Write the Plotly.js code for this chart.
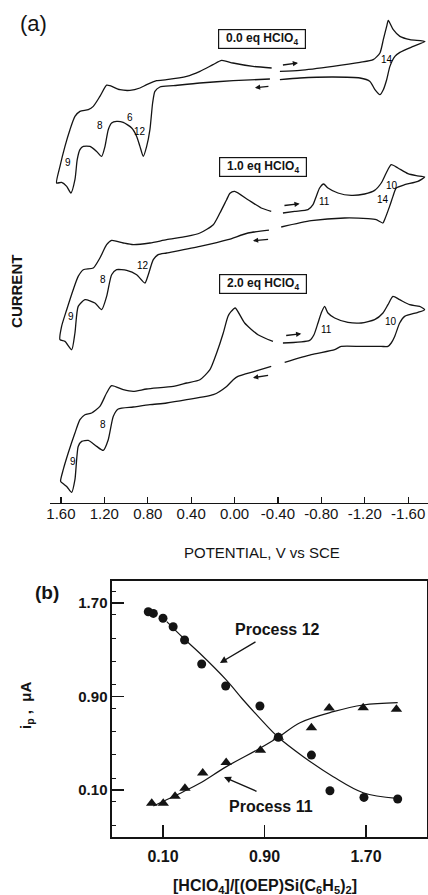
<!DOCTYPE html>
<html>
<head>
<meta charset="utf-8">
<script src="https://cdn.plot.ly/plotly-3.0.1.min.js"></script>
<style>
  html, body { margin: 0; padding: 0; background: #fff; }
  #chart { width: 428px; height: 895px; }
</style>
</head>
<body>
<div id="chart"></div>
<script>
// ---- (a) cyclic voltammograms: potential (V vs SCE) and current (arbitrary units) ----
// Each scan is split into a positive-potential window and a negative-potential window.

// 0.0 eq HClO4
const cv0_E_pos = [-0.342,-0.170,0.015,0.119,0.199,0.319,0.441,0.626,0.718,0.810,0.872,0.964,1.056,1.148,1.179,1.241,1.302,1.348,1.425,1.471,1.517,1.563,1.609,1.640,1.594,1.547,1.508,1.471,1.450,1.425,1.394,1.333,1.271,1.225,1.194,1.164,1.133,1.087,1.026,0.948,0.902,0.872,0.841,0.810,0.780,0.755,0.734,0.688,0.565,0.319,0.012,-0.326];
const cv0_I_pos = [0.67,0.83,1.17,1.43,1.00,0.33,-0.17,-0.50,-0.60,-1.00,-1.33,-1.57,-1.50,-1.10,-1.05,-2.17,-3.17,-3.50,-3.67,-4.17,-5.50,-7.17,-9.17,-10.83,-10.77,-11.17,-11.83,-10.50,-8.50,-7.50,-7.17,-7.17,-7.67,-8.17,-7.17,-5.50,-4.83,-4.67,-4.77,-5.33,-6.17,-7.17,-8.17,-7.17,-5.50,-2.83,-1.67,-1.23,-1.10,-0.83,-0.60,-0.43];
const cv0_E_neg = [-0.418,-0.603,-0.907,-1.156,-1.278,-1.340,-1.371,-1.402,-1.417,-1.463,-1.524,-1.617,-1.755,-1.647,-1.524,-1.478,-1.432,-1.402,-1.371,-1.340,-1.294,-1.248,-1.156,-0.907,-0.603,-0.418];
const cv0_I_neg = [0.33,0.43,0.83,1.23,1.50,2.17,3.50,4.83,5.43,4.50,3.83,3.50,3.33,2.83,2.23,1.83,0.83,-0.50,-1.50,-2.00,-1.50,-0.67,-0.33,-0.23,-0.33,-0.50];

// 1.0 eq HClO4
const cv1_E_pos = [-0.338,-0.246,-0.124,-0.001,0.042,0.073,0.135,0.196,0.319,0.441,0.626,0.780,0.934,1.026,1.133,1.179,1.241,1.302,1.394,1.441,1.487,1.547,1.594,1.609,1.563,1.501,1.471,1.441,1.379,1.287,1.225,1.179,1.133,1.087,0.994,0.902,0.826,0.795,0.749,0.703,0.626,0.319,0.061,-0.124,-0.317];
const cv1_I_pos = [0.33,0.67,1.50,2.33,2.15,1.50,0.17,-1.00,-1.83,-2.17,-2.50,-2.83,-3.00,-2.83,-2.57,-3.00,-4.33,-5.33,-5.50,-6.17,-7.50,-9.50,-11.17,-12.50,-12.67,-13.50,-11.83,-9.17,-8.50,-8.83,-9.50,-8.17,-6.00,-5.50,-5.57,-6.00,-6.83,-6.00,-4.50,-4.00,-3.83,-3.17,-2.50,-1.83,-1.55];
const cv1_E_neg = [-0.446,-0.554,-0.677,-0.723,-0.753,-0.784,-0.821,-0.861,-0.953,-1.076,-1.199,-1.291,-1.352,-1.398,-1.444,-1.506,-1.598,-1.675,-1.752,-1.690,-1.568,-1.490,-1.460,-1.429,-1.383,-1.368,-1.306,-1.230,-1.015,-0.707,-0.430];
const cv1_I_neg = [0.17,0.33,0.50,1.00,1.83,2.67,3.07,2.67,2.17,1.93,2.07,2.43,3.17,4.17,5.00,4.67,4.10,3.90,3.77,3.33,3.00,2.67,1.83,0.83,-0.50,-0.83,-0.50,-0.40,-0.33,-0.60,-1.23];

// 2.0 eq HClO4
const cv2_E_pos = [-0.354,-0.216,-0.093,-0.006,0.033,0.061,0.104,0.165,0.227,0.319,0.441,0.565,0.810,0.934,1.026,1.133,1.179,1.241,1.317,1.379,1.425,1.471,1.533,1.579,1.603,1.579,1.545,1.501,1.471,1.441,1.409,1.348,1.271,1.210,1.164,1.118,1.072,0.934,0.780,0.626,0.441,0.196,0.073,0.012,-0.031,-0.185,-0.338];
const cv2_I_pos = [0.83,1.50,2.67,4.17,3.80,3.33,1.67,-0.33,-2.00,-3.00,-3.33,-3.67,-3.93,-4.17,-4.00,-3.60,-4.33,-5.67,-6.33,-6.50,-7.00,-8.33,-10.33,-12.00,-13.17,-13.40,-13.70,-14.27,-13.00,-9.67,-9.17,-9.07,-9.67,-10.07,-9.00,-6.67,-5.93,-5.73,-5.50,-5.33,-5.00,-4.50,-3.67,-3.00,-2.67,-2.17,-1.67];
const cv2_E_neg = [-0.446,-0.692,-0.732,-0.769,-0.799,-0.830,-0.861,-0.923,-1.045,-1.168,-1.291,-1.368,-1.414,-1.460,-1.522,-1.614,-1.706,-1.752,-1.690,-1.568,-1.522,-1.476,-1.444,-1.414,-1.352,-1.168,-0.983,-0.923,-0.707,-0.462];
const cv2_I_neg = [0.67,0.93,1.50,2.67,3.67,4.33,3.67,3.17,2.73,2.67,3.00,3.67,4.50,5.33,5.00,4.50,4.33,4.00,3.73,3.33,2.67,1.33,0.67,0.33,0.33,0.33,0.33,0.00,-0.50,-1.27];

const cvLabels = ["0.0 eq HClO<sub>4</sub>", "1.0 eq HClO<sub>4</sub>", "2.0 eq HClO<sub>4</sub>"];
const potentialTicks = [1.60, 1.20, 0.80, 0.40, 0.00, -0.40, -0.80, -1.20, -1.60];
const potentialTickText = ["1.60", "1.20", "0.80", "0.40", "0.00", "-0.40", "-0.80", "-1.20", "-1.60"];

// ---- (b) peak current vs acid ratio ----
const ratio12 = [-0.016, 0.024, 0.10, 0.18, 0.27, 0.405, 0.594, 0.864, 1.009, 1.27, 1.416, 1.684, 1.95];
const ip12    = [1.625, 1.611, 1.569, 1.497, 1.383, 1.178, 0.99, 0.819, 0.551, 0.399, 0.094, 0.037, 0.023];
const ratio11 = [0.011, 0.102, 0.195, 0.273, 0.413, 0.598, 0.868, 1.009, 1.27, 1.41, 1.678, 1.94];
const ip11    = [-0.014, -0.014, 0.046, 0.115, 0.245, 0.335, 0.44, 0.551, 0.633, 0.802, 0.804, 0.79];
const fit12_x = [0.13, 0.26, 0.39, 0.60, 0.733, 0.864, 1.009, 1.206, 1.442, 1.678, 1.942];
const fit12_y = [1.54, 1.40, 1.27, 1.04, 0.87, 0.713, 0.551, 0.385, 0.214, 0.077, 0.029];
const fit11_x = [0.024, 0.26, 0.39, 0.60, 0.864, 1.009, 1.18, 1.442, 1.678, 1.95];
const fit11_y = [-0.037, 0.085, 0.157, 0.30, 0.457, 0.551, 0.676, 0.77, 0.827, 0.847];

// vertical stacking of the three voltammograms (a.u.)
const STACK = [42.8, 28.8, 15.3];

const FONT = "Liberation Sans, Arial, Helvetica, sans-serif";
const INK = "#141414";

function cvTrace(Ep, Ip, En, In, off) {
  return {
    x: Ep.concat([null], En),
    y: Ip.map(v => v + off).concat([null], In.map(v => v + off)),
    xaxis: "x", yaxis: "y",
    mode: "lines",
    line: { color: INK, width: 1.3, shape: "spline", smoothing: 0.6 },
    connectgaps: false,
    hoverinfo: "skip"
  };
}

const traces = [
  cvTrace(cv0_E_pos, cv0_I_pos, cv0_E_neg, cv0_I_neg, STACK[0]),
  cvTrace(cv1_E_pos, cv1_I_pos, cv1_E_neg, cv1_I_neg, STACK[1]),
  cvTrace(cv2_E_pos, cv2_I_pos, cv2_E_neg, cv2_I_neg, STACK[2]),
  { x: fit12_x, y: fit12_y, xaxis: "x2", yaxis: "y2", mode: "lines",
    line: { color: INK, width: 1.2, shape: "spline", smoothing: 1 } },
  { x: fit11_x, y: fit11_y, xaxis: "x2", yaxis: "y2", mode: "lines",
    line: { color: INK, width: 1.2, shape: "spline", smoothing: 1 } },
  { x: ratio12, y: ip12, xaxis: "x2", yaxis: "y2", mode: "markers",
    marker: { symbol: "circle", size: 9, color: INK } },
  { x: ratio11, y: ip11, xaxis: "x2", yaxis: "y2", mode: "markers",
    marker: { symbol: "triangle-up", size: 10, color: INK } }
];

// wave labels on the voltammograms: [E, current, curve index, text]
const waveLabels = [
  [-1.408, 1.5, 0, "14"], [1.533, -8.77, 0, "9"], [1.241, -5.1, 0, "8"],
  [0.964, -4.33, 0, "6"], [0.867, -5.67, 0, "12"],
  [-0.830, 1.33, 1, "11"], [-1.451, 2.9, 1, "10"], [-1.368, 1.5, 1, "14"],
  [0.847, -5.1, 1, "12"], [1.216, -6.5, 1, "8"], [1.511, -10.23, 1, "9"],
  [-0.845, 2.0, 2, "11"], [-1.444, 2.83, 2, "10"], [1.210, -7.5, 2, "8"], [1.492, -11.17, 2, "9"]
];

// scan-direction arrows: [E head, I head, E tail, I tail, curve index]
const scanArrows = [
  [-0.585, 1.17, -0.432, 0.95, 0], [-0.188, -1.30, -0.326, -1.15, 0],
  [-0.600, 1.10, -0.446, 0.90, 1], [-0.170, -2.60, -0.323, -2.45, 1],
  [-0.615, 1.60, -0.462, 1.40, 2], [-0.170, -2.80, -0.323, -2.55, 2]
];

const annotations = [];
waveLabels.forEach(([e, i, k, t]) => annotations.push({
  x: e, y: i + STACK[k], xref: "x", yref: "y", text: t, showarrow: false,
  xanchor: "center", yanchor: "middle",
  font: { family: FONT, size: 10, color: "#000" }
}));
scanArrows.forEach(([e, i, e0, i0, k]) => annotations.push({
  x: e, y: i + STACK[k], ax: e0, ay: i0 + STACK[k], xref: "x", yref: "y",
  axref: "x", ayref: "y", text: "", showarrow: true,
  arrowhead: 2, arrowsize: 0.8, arrowwidth: 1.3, arrowcolor: INK
}));
const boxPos = [[0.611, 0.9564], [0.6145, 0.8134], [0.6138, 0.6832]];
cvLabels.forEach((t, k) => annotations.push({
  x: boxPos[k][0], y: boxPos[k][1], xref: "paper", yref: "paper",
  xanchor: "center", yanchor: "middle",
  text: "<b>" + t + "</b>", showarrow: false, width: 82, height: 14,
  bordercolor: INK, borderwidth: 1.2, borderpad: 2, bgcolor: "#fff",
  font: { family: FONT, size: 12, color: INK }
}));

function note(x, y, text, size, extra) {
  return Object.assign({ x: x, y: y, xref: "paper", yref: "paper", text: text,
    showarrow: false, xanchor: "center", yanchor: "middle",
    font: { family: FONT, size: size, color: INK } }, extra || {});
}

annotations.push(
  note(0.0794, 0.9743, "(a)", 22),
  note(0.1098, 0.3385, "<b>(b)</b>", 19),
  note(0.0397, 0.6749, "<b>CURRENT</b>", 15, { textangle: -90 }),
  note(0.612, 0.3832, "POTENTIAL, V vs SCE", 15),
  note(0.0631, 0.2112, "<b>i<sub>p</sub> ,  μA</b>", 15, { textangle: -90 }),
  note(0.619, 0.0095, "<b>[HClO<sub>4</sub>]/[(OEP)Si(C<sub>6</sub>H<sub>5</sub>)<sub>2</sub>]</b>", 16),
  { x: 1.002, y: 1.469, xref: "x2", yref: "y2", text: "<b>Process 12</b>", showarrow: false,
    xanchor: "center", yanchor: "middle", font: { family: FONT, size: 16, color: INK } },
  { x: 0.951, y: -0.045, xref: "x2", yref: "y2", text: "<b>Process 11</b>", showarrow: false,
    xanchor: "center", yanchor: "middle", font: { family: FONT, size: 16, color: INK } },
  { x: 0.549, y: 1.187, ax: 0.841, ay: 1.375, xref: "x2", yref: "y2", axref: "x2", ayref: "y2",
    text: "", showarrow: true, arrowhead: 2, arrowsize: 1, arrowwidth: 1.4, arrowcolor: INK },
  { x: 0.581, y: 0.211, ax: 0.849, ay: 0.083, xref: "x2", yref: "y2", axref: "x2", ayref: "y2",
    text: "", showarrow: true, arrowhead: 2, arrowsize: 1, arrowwidth: 1.4, arrowcolor: INK }
);

const layout = {
  width: 428, height: 895,
  margin: { l: 0, r: 0, t: 0, b: 0 },
  paper_bgcolor: "#fff", plot_bgcolor: "#fff",
  showlegend: false,
  font: { family: FONT, color: INK },
  xaxis: {
    domain: [0.1168, 1.0], anchor: "y", range: [1.701, -1.783],
    showline: true, linecolor: INK, linewidth: 1.3,
    ticks: "inside", ticklen: 6, tickwidth: 1.2, tickcolor: INK,
    tickmode: "array", tickvals: potentialTicks, ticktext: potentialTickText,
    ticklabelstandoff: -3,
    tickfont: { family: FONT, size: 15, color: INK },
    showgrid: false, zeroline: false, fixedrange: true
  },
  yaxis: {
    domain: [0.43832, 0.98883], anchor: "x", range: [0, 49.27],
    visible: false, showgrid: false, zeroline: false, fixedrange: true
  },
  xaxis2: {
    domain: [0.26168, 0.99766], anchor: "y2", range: [-0.302, 2.181],
    tickmode: "linear", tick0: 0.1, dtick: 0.8, tickformat: ".2f",
    showline: true, mirror: true, linecolor: INK, linewidth: 1.5,
    ticks: "inside", ticklen: 12, tickwidth: 1.4, tickcolor: INK,
    ticklabelstandoff: 4,
    tickfont: { family: FONT, size: 16, color: INK, weight: "bold" },
    showgrid: false, zeroline: false, fixedrange: true
  },
  yaxis2: {
    domain: [0.0648, 0.35084], anchor: "x2", range: [-0.302, 1.888],
    tickmode: "linear", tick0: 0.1, dtick: 0.8, tickformat: ".2f",
    showline: true, mirror: true, linecolor: INK, linewidth: 1.5,
    ticks: "inside", ticklen: 12, tickwidth: 1.4, tickcolor: INK,
    minor: { dtick: 0.2, ticks: "inside", ticklen: 4, tickwidth: 1, tickcolor: INK },
    tickfont: { family: FONT, size: 15, color: INK, weight: "bold" },
    showgrid: false, zeroline: false, fixedrange: true
  },
  annotations: annotations
};

Plotly.newPlot("chart", traces, layout, { displayModeBar: false, staticPlot: true });
</script>
</body>
</html>
